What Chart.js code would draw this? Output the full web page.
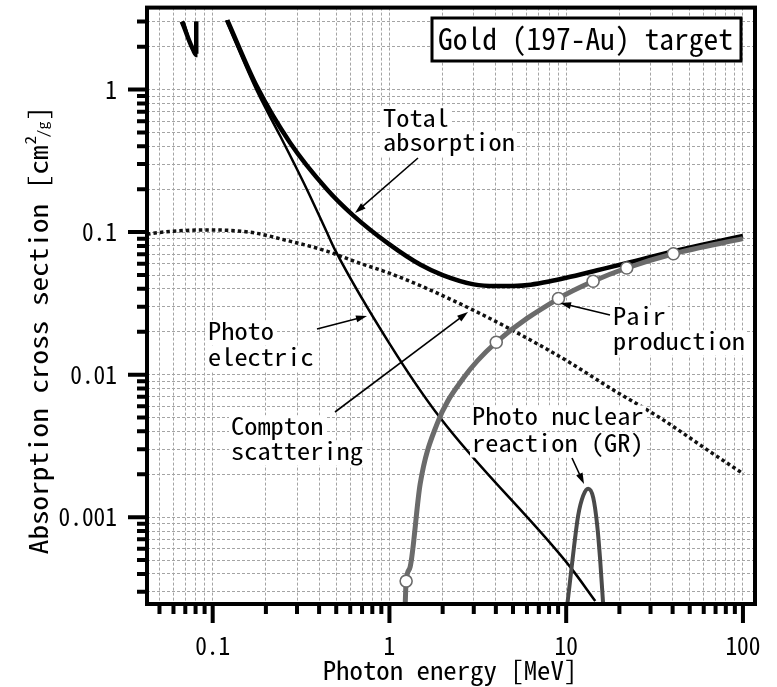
<!DOCTYPE html>
<html>
<head>
<meta charset="utf-8">
<script src="https://cdn.jsdelivr.net/npm/chart.js@4/dist/chart.umd.min.js"></script>
<style>
  html, body { margin: 0; padding: 0; background: #fff; }
  #wrap { width: 777px; height: 687px; }
</style>
</head>
<body>
<div id="wrap"><canvas id="c" width="777" height="687"></canvas></div>
<script>
// ---- axis ticks and labels ----
const energyTicks = [0.05,0.06,0.07,0.08,0.09,0.1,0.2,0.3,0.4,0.5,0.6,0.7,0.8,0.9,
  1,2,3,4,5,6,7,8,9,10,20,30,40,50,60,70,80,90,100];
const sigmaTicks = [0.0003,0.0004,0.0005,0.0006,0.0007,0.0008,0.0009,
  0.001,0.002,0.003,0.004,0.005,0.006,0.007,0.008,0.009,
  0.01,0.02,0.03,0.04,0.05,0.06,0.07,0.08,0.09,
  0.1,0.2,0.3,0.4,0.5,0.6,0.7,0.8,0.9,1,2,3];
const energyLabelValues = [0.1, 1, 10, 100];
const energyLabels = ['0.1', '1', '10', '100'];
const sigmaLabelValues = [1, 0.1, 0.01, 0.001];
const sigmaLabels = ['1', '0.1', '0.01', '0.001'];

// ---- cross sections of gold, energy [MeV] vs cm2/g ----
const totalE = [0.0668, 0.0807, 0.0807, 0.1, 0.121, 0.1777, 0.274, 0.4425, 0.623, 1.0, 1.5, 2.0, 3.0, 4.0, 5.0, 6.3, 8.0, 10, 15, 23, 40.5, 60, 100];
const totalS = [3.0, 1.85, 3.0, null, 3.07, 1.053, 0.424, 0.200, 0.1312, 0.082, 0.059, 0.050, 0.0430, 0.0418, 0.0419, 0.0428, 0.0450, 0.0478, 0.054, 0.0615, 0.0735, 0.082, 0.094];

const photoE = [0.0685, 0.0807, 0.0807, 0.1, 0.119, 0.1777, 0.2406, 0.3408, 0.4425, 0.493, 1.009, 1.936, 10.53, 14.6];
const photoS = [3.0, 1.72, 3.0, null, 3.07, 0.98, 0.474, 0.200, 0.0998, 0.0748, 0.01626, 0.00498, 0.000448, 0.000258];

const comptonE = [0.0425, 0.0483, 0.0906, 0.163, 0.2627, 0.442, 0.654, 1.0, 1.557, 2.988, 5.03, 10.09, 18.5, 34.0, 68.2, 100.8];
const comptonS = [0.0967, 0.0990, 0.1036, 0.0998, 0.0874, 0.0736, 0.0615, 0.0515, 0.0412, 0.0283, 0.0203, 0.0125, 0.0078, 0.00497, 0.00277, 0.00201];

const pairE = [1.227, 1.243, 1.31, 1.492, 1.855, 2.624, 4.02, 9.04, 14.2, 22.0, 40.4, 100];
const pairS = [0.00024, 0.000356, 0.000448, 0.00171, 0.00448, 0.00947, 0.01688, 0.0342, 0.0452, 0.056, 0.0705, 0.090];

const pairMarkE = [1.243, 4.02, 9.04, 14.2, 22.0, 40.4];
const pairMarkS = [0.000356, 0.01688, 0.0342, 0.0452, 0.056, 0.0705];

const grE = [10.13, 10.53, 11.1, 11.69, 12.48, 13.32, 14.22, 14.98, 15.57, 16.2];
const grS = [0.00024, 0.000362, 0.000635, 0.00103, 0.001417, 0.001585, 0.001372, 0.000875, 0.000499, 0.00024];

const toPoints = (E, S) => E.map((e, i) => ({ x: e, y: S[i] }));

// ---- text helpers: narrow monospaced glyphs ----
const MONO = '"Noto Sans Mono CJK JP", "DejaVu Sans Mono", monospace';
function drawMono(ctx, str, x, y, size, adv, align, bg) {
  ctx.save();
  ctx.font = size + 'px ' + MONO;
  const natural = ctx.measureText(str).width;
  const w = str.length * adv;
  const sx = w / natural;
  let left = x;
  if (align === 'center') left = x - w / 2;
  else if (align === 'right') left = x - w;
  if (bg) {
    ctx.fillStyle = '#fff';
    ctx.fillRect(left - 2, y - size * 0.82, w + 4, size * 1.05);
  }
  ctx.translate(left, y);
  ctx.scale(sx, 1);
  ctx.fillStyle = '#000';
  ctx.textAlign = 'left';
  ctx.textBaseline = 'alphabetic';
  ctx.fillText(str, 0, 0);
  ctx.restore();
  return w;
}
function arrow(ctx, x1, y1, x2, y2) {
  const a = Math.atan2(y2 - y1, x2 - x1);
  const L = 11, W = 3.5;
  ctx.save();
  ctx.strokeStyle = '#000';
  ctx.fillStyle = '#000';
  ctx.lineWidth = 1.6;
  ctx.beginPath();
  ctx.moveTo(x1, y1);
  ctx.lineTo(x2 - Math.cos(a) * L * 0.8, y2 - Math.sin(a) * L * 0.8);
  ctx.stroke();
  ctx.beginPath();
  ctx.moveTo(x2, y2);
  ctx.lineTo(x2 - Math.cos(a) * L - Math.sin(a) * W, y2 - Math.sin(a) * L + Math.cos(a) * W);
  ctx.lineTo(x2 - Math.cos(a) * L + Math.sin(a) * W, y2 - Math.sin(a) * L - Math.cos(a) * W);
  ctx.closePath();
  ctx.fill();
  ctx.restore();
}

// labels on the plot: lines of text, then arrow from -> to
const notes = [
  { lines: [['Total', 383, 127], ['absorption', 383, 151]], arrow: [418, 158, 355, 213] },
  { lines: [['Photo', 208, 340], ['electric', 208, 366]], arrow: [317, 329, 367, 316] },
  { lines: [['Compton', 231, 435], ['scattering', 231, 460]], arrow: [335, 412, 468, 312] },
  { lines: [['Pair', 613, 325], ['production', 613, 350]], arrow: [610, 315, 560, 303] },
  { lines: [['Photo nuclear', 472, 425], ['reaction (GR)', 472, 452]], arrow: [572, 458, 584, 484] }
];

const decorations = {
  id: 'decorations',
  afterDatasetsDraw(chart) {
    const ctx = chart.ctx;
    const a = chart.chartArea;
    const xs = chart.scales.x, ys = chart.scales.y;

    // notes with white backing
    notes.forEach(n => {
      n.lines.forEach(([t, x, y]) => drawMono(ctx, t, x, y, 24, 13.2, 'left', true));
      arrow(ctx, ...n.arrow);
    });

    // title box
    ctx.save();
    ctx.fillStyle = '#fff';
    ctx.fillRect(432, 18, 309, 43);
    ctx.lineWidth = 3;
    ctx.strokeStyle = '#000';
    ctx.strokeRect(432, 18, 309, 43);
    ctx.restore();
    drawMono(ctx, 'Gold (197-Au) target', 438, 50, 30, 14.75, 'left', false);

    // frame
    ctx.save();
    ctx.strokeStyle = '#000';
    ctx.lineWidth = 4;
    ctx.strokeRect(a.left, a.top, a.right - a.left, a.bottom - a.top);

    // outward tick marks
    ctx.beginPath();
    xs.ticks.forEach(t => {
      const px = xs.getPixelForValue(t.value);
      const len = energyLabelValues.includes(t.value) ? 19 : 10;
      ctx.moveTo(px, a.bottom);
      ctx.lineTo(px, a.bottom + len);
    });
    ys.ticks.forEach(t => {
      const py = ys.getPixelForValue(t.value);
      const len = sigmaLabelValues.includes(t.value) ? 19 : 10;
      ctx.moveTo(a.left, py);
      ctx.lineTo(a.left - len, py);
    });
    ctx.stroke();
    ctx.restore();

    // tick labels
    energyLabelValues.forEach((v, i) => {
      drawMono(ctx, energyLabels[i], xs.getPixelForValue(v), 655, 25, 11.7, 'center', false);
    });
    sigmaLabelValues.forEach((v, i) => {
      drawMono(ctx, sigmaLabels[i], 117, ys.getPixelForValue(v) + 9, 25, 11.7, 'right', false);
    });

    // axis titles
    drawMono(ctx, 'Photon energy [MeV]', 450, 680, 26, 13.4, 'center', false);

    ctx.save();
    ctx.translate(48, 330);
    ctx.rotate(-Math.PI / 2);
    const main = 'Absorption cross section [cm';
    const adv = 14.6;
    const wMain = main.length * adv;
    const total = wMain + 9 + 16 + adv;
    const start = -total / 2;
    drawMono(ctx, main, start, 0, 26, adv, 'left', false);
    drawMono(ctx, '2', start + wMain + 1, -12, 15, 8.5, 'left', false);
    drawMono(ctx, '/g', start + wMain + 8, 0, 14, 8, 'left', false);
    drawMono(ctx, ']', start + wMain + 25, 0, 26, adv, 'left', false);
    ctx.restore();
  }
};

const gridStyle = { color: '#a4a4a4', lineWidth: 1, drawTicks: false };

new Chart(document.getElementById('c'), {
  type: 'line',
  data: {
    datasets: [
      { label: 'pair marks', data: toPoints(pairMarkE, pairMarkS), showLine: false,
        pointRadius: 6, pointBackgroundColor: '#fff', pointBorderColor: '#6b6b6b', pointBorderWidth: 1.6, order: 0 },
      { label: 'Pair production', data: toPoints(pairE, pairS), borderColor: '#6b6b6b', borderWidth: 5,
        pointRadius: 0, cubicInterpolationMode: 'monotone', order: 1 },
      { label: 'Total absorption', data: toPoints(totalE, totalS), borderColor: '#000', borderWidth: 4.5,
        pointRadius: 0, cubicInterpolationMode: 'monotone', order: 2 },
      { label: 'Photo nuclear reaction (GR)', data: toPoints(grE, grS), borderColor: '#4a4a4a', borderWidth: 4,
        pointRadius: 0, cubicInterpolationMode: 'monotone', order: 3 },
      { label: 'Photo electric', data: toPoints(photoE, photoS), borderColor: '#000', borderWidth: 2.5,
        pointRadius: 0, cubicInterpolationMode: 'monotone', order: 4 },
      { label: 'Compton scattering', data: toPoints(comptonE, comptonS), borderColor: '#111', borderWidth: 3.5,
        borderDash: [3.5, 3], borderCapStyle: 'butt', pointRadius: 0, cubicInterpolationMode: 'monotone', order: 5 }
    ]
  },
  options: {
    responsive: false,
    animation: false,
    devicePixelRatio: 1,
    spanGaps: false,
    clip: 0,
    layout: { padding: { left: 0, top: 4, right: 22, bottom: 0 } },
    plugins: { legend: { display: false }, tooltip: { enabled: false } },
    scales: {
      x: {
        type: 'logarithmic', min: 0.0425, max: 117,
        afterBuildTicks: s => { s.ticks = energyTicks.map(v => ({ value: v })); },
        afterFit: s => { s.height = 83; },
        ticks: { display: false },
        grid: gridStyle,
        border: { display: false, dash: [3, 2] }
      },
      y: {
        type: 'logarithmic', min: 0.000246, max: 3.76,
        afterBuildTicks: s => { s.ticks = sigmaTicks.map(v => ({ value: v })); },
        afterFit: s => { s.width = 147; },
        ticks: { display: false },
        grid: gridStyle,
        border: { display: false, dash: [3, 2] }
      }
    }
  },
  plugins: [decorations]
});
</script>
</body>
</html>
